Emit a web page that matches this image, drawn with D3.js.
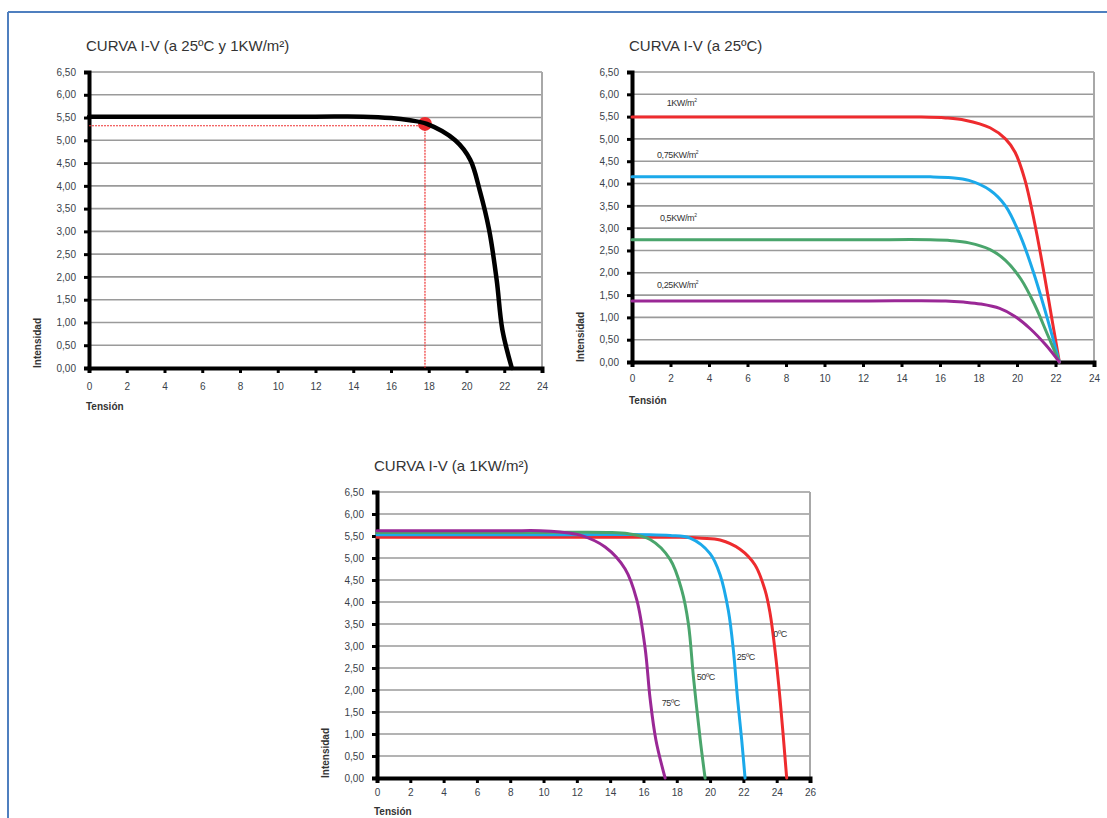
<!DOCTYPE html>
<html>
<head>
<meta charset="utf-8">
<script src="https://d3js.org/d3.v7.min.js"></script>
<style>
  body { margin: 0; background: #fff; }
  svg { display: block; font-family: "Liberation Sans", Arial, sans-serif; }
  .grid line { stroke: #9a9a9a; stroke-width: 1.6px; }
  .frame { fill: none; stroke: #a8a8a8; stroke-width: 2px; }
  .tick-lbl { font-size: 10px; fill: #3a3f4a; }
  .ttl { font-size: 15px; fill: #333; }
  .axname { font-size: 10px; font-weight: bold; fill: #333; }
  .curve { fill: none; stroke-linejoin: round; stroke-linecap: round; }
  .serlbl { font-size: 9px; fill: #333; letter-spacing: -0.4px; }
</style>
</head>
<body>
<script>
// ---- data (voltage V, current A) ----
var yTicks = [0, 0.5, 1, 1.5, 2, 2.5, 3, 3.5, 4, 4.5, 5, 5.5, 6, 6.5];

// chart 1: single curve at 25ºC, 1 kW/m2
var curveStd = [[0,5.52],[6,5.52],[12,5.52],[14.5,5.52],[16,5.49],[17,5.44],[17.9,5.36],[19.4,5.0],[20.2,4.57],[20.7,3.9],[21.2,3.03],[21.6,1.93],[21.9,0.84],[22.4,0]];
var mppV = 17.8, mppI = 5.32;

// chart 2: irradiance
var irrNames = ["1KW/m", "0,75KW/m", "0,5KW/m", "0,25KW/m"];
var irrColors = ["#ee2b2e", "#1ba9ea", "#4aa56c", "#9a2896"];
var irr1000 = [[0,5.49],[6,5.49],[12,5.49],[15,5.49],[16.3,5.47],[17.3,5.42],[18.6,5.25],[19.4,5.0],[19.9,4.7],[20.4,4.1],[20.9,3.15],[21.4,2.0],[21.8,1.0],[22.2,0]];
var irr750 = [[0,4.15],[6,4.15],[12,4.15],[15.5,4.15],[16.6,4.13],[17.5,4.07],[18.6,3.85],[19.4,3.5],[20.2,2.8],[20.9,1.95],[21.6,0.94],[22.2,0]];
var irr500 = [[0,2.74],[6,2.74],[12,2.74],[15.5,2.74],[16.6,2.72],[17.5,2.67],[18.6,2.52],[19.4,2.28],[20.2,1.86],[20.9,1.3],[21.6,0.6],[22.2,0]];
var irr250 = [[0,1.37],[6,1.37],[12,1.37],[16.3,1.37],[17.3,1.34],[18.1,1.3],[19.1,1.2],[19.9,1.02],[20.7,0.74],[21.5,0.38],[22.2,0]];
var irrLabelPos = [[1.8,5.8],[1.3,4.64],[1.45,3.23],[1.3,1.73]];

// chart 3: temperature
var tempNames = ["0ºC", "25ºC", "50ºC", "75ºC"];
var tempColors = ["#ee2b2e", "#1ba9ea", "#4aa56c", "#9a2896"];
var temp0 = [[0,5.47],[6,5.47],[12,5.47],[18.2,5.47],[19.5,5.45],[20.6,5.41],[21.8,5.2],[22.7,4.84],[23.3,4.27],[23.6,3.75],[23.9,2.9],[24.2,1.8],[24.6,0]];
var temp25 = [[0,5.53],[6,5.53],[12,5.53],[16.4,5.53],[17.6,5.51],[18.8,5.45],[20,5.1],[20.6,4.62],[21.1,3.8],[21.4,2.9],[21.65,1.8],[21.9,0.86],[22.1,0]];
var temp50 = [[0,5.58],[5,5.58],[10,5.58],[13.8,5.58],[15.1,5.55],[16.4,5.42],[17.6,4.97],[18.3,4.27],[18.7,3.5],[19.0,2.3],[19.4,0.9],[19.7,0]];
var temp75 = [[0,5.62],[4,5.62],[8,5.62],[9.8,5.62],[11,5.59],[12.2,5.52],[13.7,5.25],[14.9,4.75],[15.6,4.05],[16.1,2.95],[16.4,1.8],[16.75,0.86],[17.3,0]];
var tempLabelPos = [[23.8,3.27],[21.6,2.75],[19.2,2.3],[17.1,1.7]];

var svg = d3.select("body").append("svg").attr("width", 1107).attr("height", 818);

// page frame (blue rule)
svg.append("line").attr("x1", 8).attr("x2", 1107).attr("y1", 12).attr("y2", 12)
  .attr("stroke", "#4f7fbf").attr("stroke-width", 2);
svg.append("line").attr("x1", 8).attr("x2", 8).attr("y1", 12).attr("y2", 818)
  .attr("stroke", "#4f7fbf").attr("stroke-width", 2);

var fmt = function(d) { return d3.format(".2f")(d).replace(".", ","); };

function drawChart(c) {
  var x = d3.scaleLinear().domain([0, c.xMax]).range([c.x0, c.x1]);
  var y = d3.scaleLinear().domain([0, 6.5]).range([c.y0, c.y1]);
  var g = svg.append("g");

  g.append("text").attr("class", "ttl").attr("x", c.x0 - 3).attr("y", c.y1 - 21).text(c.title);

  // horizontal grid
  g.append("g").attr("class", "grid").selectAll("line").data(yTicks.slice(1)).enter()
    .append("line").attr("x1", c.x0).attr("x2", c.x1)
    .attr("y1", function(d) { return y(d); }).attr("y2", function(d) { return y(d); });
  g.append("line").attr("class", "frame").attr("x1", c.x1).attr("x2", c.x1)
    .attr("y1", c.y1).attr("y2", c.y0);

  // y axis
  var ya = g.append("g").attr("transform", "translate(" + c.x0 + ",0)")
    .call(d3.axisLeft(y).tickValues(yTicks).tickFormat(fmt).tickSize(5).tickPadding(8));
  ya.select(".domain").attr("stroke", "#000").attr("stroke-width", 4);
  ya.selectAll(".tick line").attr("stroke", "#000").attr("stroke-width", 3);
  ya.selectAll(".tick text").attr("class", "tick-lbl").attr("font-family", null).attr("font-size", null);

  // x axis
  var xa = g.append("g").attr("transform", "translate(0," + c.y0 + ")")
    .call(d3.axisBottom(x).tickValues(d3.range(0, c.xMax + 1, 2)).tickSize(5).tickPadding(c.xPad));
  xa.select(".domain").attr("stroke", "#000").attr("stroke-width", 4);
  xa.selectAll(".tick line").attr("stroke", "#000").attr("stroke-width", 3);
  xa.selectAll(".tick text").attr("class", "tick-lbl").attr("font-family", null).attr("font-size", null);

  g.append("text").attr("class", "axname").attr("x", c.x0 - 3).attr("y", c.y0 + c.tDy).text("Tensión");
  g.append("text").attr("class", "axname")
    .attr("transform", "translate(" + (c.x0 - 48) + "," + c.y0 + ") rotate(-90)").text("Intensidad");

  var line = d3.line().x(function(d) { return x(d[0]); }).y(function(d) { return y(d[1]); })
    .curve(d3.curveCatmullRom.alpha(0.5));

  if (c.extra) c.extra(g, x, y);

  c.series.forEach(function(s) {
    g.append("path").attr("class", "curve").attr("d", line(s.pts))
      .attr("stroke", s.color).attr("stroke-width", c.lw);
  });

  if (c.labels) {
    c.labels.forEach(function(l) {
      var t = g.append("text").attr("class", "serlbl").attr("x", x(l.pos[0])).attr("y", y(l.pos[1]) + 3);
      t.append("tspan").text(l.name);
      if (l.sup) t.append("tspan").attr("dy", -4).attr("font-size", 5).text("2");
    });
  }
}

// chart 1
drawChart({
  title: "CURVA I-V (a 25ºC y 1KW/m²)", x0: 89, x1: 542, y0: 368, y1: 72, xMax: 24, lw: 4.5,
  xPad: 10, tDy: 42,
  series: [{ pts: curveStd, color: "#000" }],
  extra: function(g, x, y) {
    g.append("path").attr("fill", "none").attr("stroke", "#ee3333").attr("stroke-width", 1.2)
      .attr("stroke-dasharray", "2,1")
      .attr("d", "M" + x(0) + "," + y(mppI) + "H" + x(mppV) + "V" + y(0));
    g.append("circle").attr("cx", x(mppV)).attr("cy", y(mppI + 0.04))
      .attr("r", 7).attr("fill", "#ee2b2e");
  }
});

// chart 2
var irrSeries = [irr1000, irr750, irr500, irr250];
drawChart({
  title: "CURVA I-V (a 25ºC)", x0: 632, x1: 1094, y0: 362, y1: 72, xMax: 24, lw: 3,
  xPad: 8, tDy: 42,
  series: irrSeries.map(function(p, i) { return { pts: p, color: irrColors[i] }; }),
  labels: irrNames.map(function(n, i) { return { name: n, pos: irrLabelPos[i], sup: true }; })
});

// chart 3
var tempSeries = [temp0, temp25, temp50, temp75];
drawChart({
  title: "CURVA I-V (a 1KW/m²)", x0: 377, x1: 810, y0: 778, y1: 492, xMax: 26, lw: 3,
  xPad: 6, tDy: 37,
  series: tempSeries.map(function(p, i) { return { pts: p, color: tempColors[i] }; }),
  labels: tempNames.map(function(n, i) { return { name: n, pos: tempLabelPos[i] }; })
});
</script>
</body>
</html>
